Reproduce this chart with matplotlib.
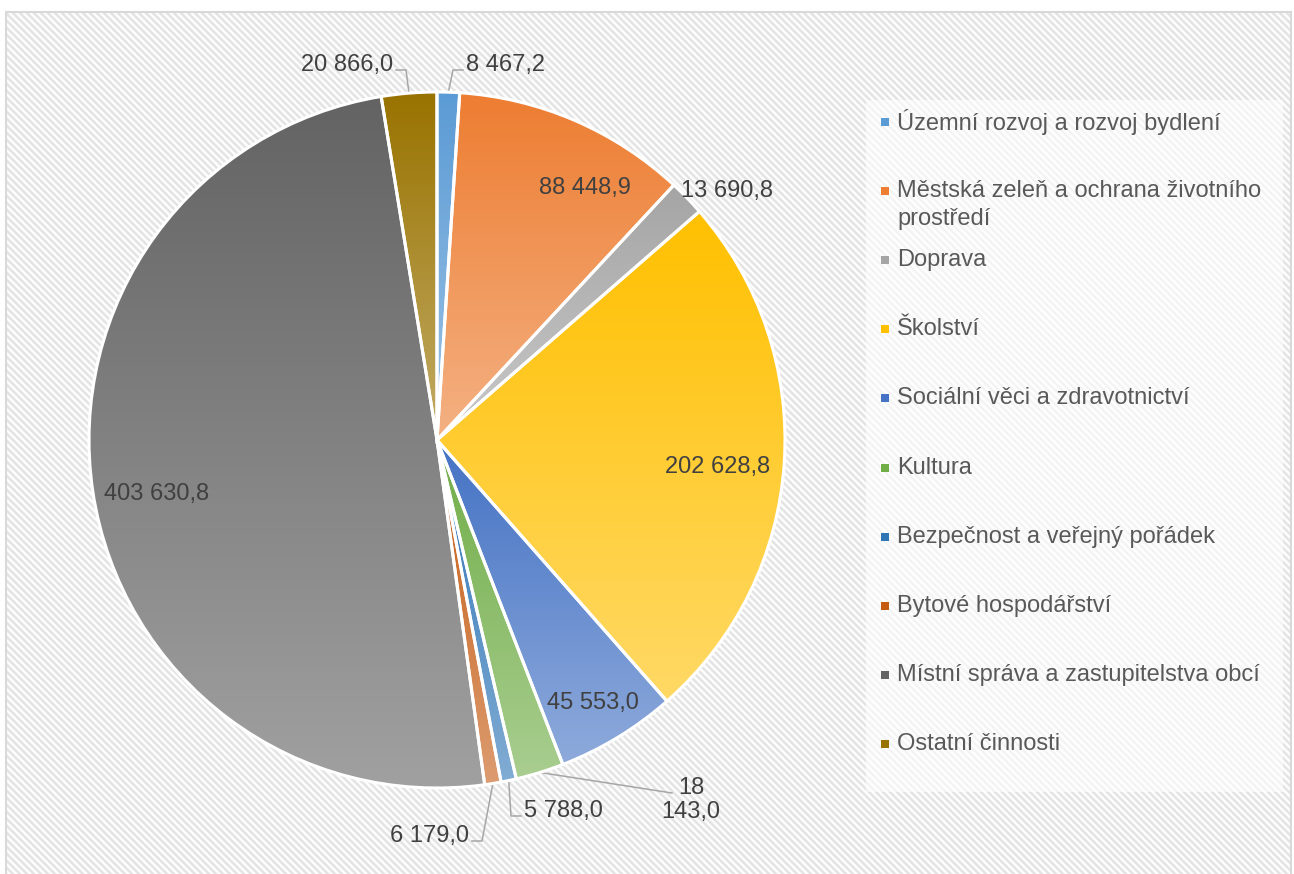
import numpy as np
import matplotlib
matplotlib.use('Agg')
import matplotlib.pyplot as plt
import matplotlib.colors as mcolors
from matplotlib.patches import Rectangle

plt.rcParams['font.family'] = ['Liberation Sans', 'DejaVu Sans']

W, H = 1294, 874

####################################### data
categories = ['Územní rozvoj a rozvoj bydlení',
              'Městská zeleň a ochrana životního\nprostředí',
              'Doprava',
              'Školství',
              'Sociální věci a zdravotnictví',
              'Kultura',
              'Bezpečnost a veřejný pořádek',
              'Bytové hospodářství',
              'Místní správa a zastupitelstva obcí',
              'Ostatní činnosti']
values = [8467.2, 88448.9, 13690.8, 202628.8, 45553.0,
          18143.0, 5788.0, 6179.0, 403630.8, 20866.0]
colors = ['#5B9BD5', '#ED7D31', '#A5A5A5', '#FFC000', '#4472C4',
          '#70AD47', '#2E75B6', '#C55A11', '#636363', '#997300']

# label placement: ('in', angle cw from top, radius fraction) or ('out', x px, y px, ha)
label_pos = [('out', 466, 65, 'left'),
             ('in', 30.5, 0.84),
             ('free', 727, 191, 'center'),
             ('in', 95.5, 0.81),
             ('in', 149.3, 0.88),
             ('out', 691, 800, 'center'),
             ('out', 524, 811, 'left'),
             ('out', 469, 836, 'right'),
             ('in', 259.1, 0.82),
             ('out', 393, 65, 'right')]


def fmt(v):
    return f'{v:,.1f}'.replace(',', ' ').replace('.', ',')


fig = plt.figure(figsize=(W / 100, H / 100), dpi=100)
ax = fig.add_axes([0, 0, 1, 1])

####################################### striped background
yy, xx = np.mgrid[0:H, 0:W]
stripe = 0.5 + 0.5 * np.cos(2 * np.pi * (xx - yy) / 7.0)
bg = 1.0 - 0.12 * stripe
bg[:12, :] = 1.0
bg[:, :6] = 1.0
bg[:, 1291:] = 1.0
ax.imshow(bg, cmap='gray', vmin=0, vmax=1, extent=(0, W, 0, H), origin='upper',
          interpolation='nearest', aspect='auto', zorder=0)
ax.add_patch(Rectangle((6, -5), 1285, H - 12 + 5, facecolor='none',
                       edgecolor='#D9D9D9', linewidth=1.5, zorder=1))

# legend panel
ax.add_patch(Rectangle((866, H - 792), 1283 - 866, 792 - 100, facecolor='white',
                       alpha=0.6, edgecolor='none', zorder=1))

####################################### pie
cx, cy, R = 437, H - 440, 348
wedges, _ = ax.pie(values, colors=colors, startangle=90, counterclock=False,
                   center=(cx, cy), radius=R,
                   wedgeprops=dict(edgecolor='white', linewidth=2.2))

for w, c in zip(wedges, colors):
    v = w.get_path().vertices
    x0, x1 = v[:, 0].min(), v[:, 0].max()
    y0, y1 = v[:, 1].min(), v[:, 1].max()
    rgb = np.array(mcolors.to_rgb(c))
    t = np.linspace(0, 1, 256)[:, None]
    grad = rgb * (1 - 0.4 * t) + 0.4 * t
    im = ax.imshow(grad[:, None, :], extent=(x0, x1, y0, y1), origin='upper',
                   aspect='auto', interpolation='bilinear', zorder=2)
    im.set_clip_path(w)
    w.set_facecolor('none')
    w.set_zorder(3)

####################################### labels
total = sum(values)
cum = np.cumsum([0] + values[:-1])
txt_kw = dict(fontsize=17, color='#404040', zorder=5)
for i, (v, lp) in enumerate(zip(values, label_pos)):
    mid = (cum[i] + v / 2) / total * 360
    s = fmt(v)
    if lp[0] == 'in':
        a = np.radians(lp[1])
        ax.text(cx + lp[2] * R * np.sin(a), cy + lp[2] * R * np.cos(a), s,
                ha='center', va='center', **txt_kw)
        continue
    tx, ty, ha = lp[1], H - lp[2], lp[3]
    if lp[0] == 'free':
        ax.text(tx, ty, s, ha=ha, va='center', **txt_kw)
        continue
    sx = cx + R * np.sin(np.radians(mid))
    sy = cy + R * np.cos(np.radians(mid))
    if ha == 'center':
        s = s.replace(' ', '\n', 1)
        ax.text(tx, ty, s, ha='center', va='center', linespacing=1.1, **txt_kw)
        ax.plot([sx, tx - 19], [sy, ty + 7], color='#A6A6A6', lw=1.1, zorder=1.5)
    else:
        d = -1 if ha == 'left' else 1
        ex, ey = tx + 3 * d, ty - 5
        ax.text(tx, ty, s, ha=ha, va='center', **txt_kw)
        ax.plot([sx, ex + 10 * d, ex], [sy, ey, ey], color='#A6A6A6', lw=1.1,
                zorder=1.5)

####################################### legend
rows = np.linspace(122, 744, len(categories))
for c, lab, ry in zip(colors, categories, rows):
    ax.add_patch(Rectangle((881, H - ry - 4), 8, 8, facecolor=c, edgecolor='none',
                           zorder=5))
    for k, line in enumerate(lab.split('\n')):
        ax.text(897, H - ry - k * 28, line, ha='left', va='center', fontsize=17,
                color='#595959', zorder=5)

ax.set_xlim(0, W)
ax.set_ylim(0, H)
ax.set_aspect('auto')
ax.axis('off')

fig.savefig('out.png', dpi=100)
